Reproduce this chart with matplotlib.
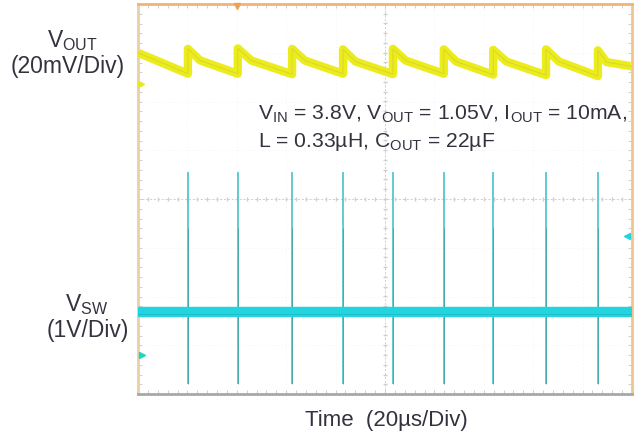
import numpy as np
import matplotlib
matplotlib.use("Agg")
import matplotlib.pyplot as plt
from matplotlib.ticker import MultipleLocator

plt.rcParams['font.family'] = ['Liberation Sans', 'DejaVu Sans']
plt.rcParams['mathtext.fontset'] = 'custom'
plt.rcParams['mathtext.rm'] = 'Liberation Sans'

# switching events (time in divisions, 20us/div)
sw_times = [1.01, 2.02, 3.12, 4.15, 5.16, 6.19, 7.19, 8.26, 9.31]

# VOUT ripple (divisions, 20mV/div), read per tooth
vout_start = 3.00
vout_valley = [2.57, 2.57, 2.56, 2.57, 2.56, 2.57, 2.55, 2.54, 2.52, 2.72]  # value just before each jump (last = screen end)
vout_peak = [3.08, 3.09, 3.08, 3.07, 3.08, 3.07, 3.06, 3.07, 3.05]
vout_mid_drop = [0.24, 0.25, 0.24, 0.25, 0.24, 0.25, 0.24, 0.25, 0.24]

# VSW levels (divisions, 1V/div)
vsw_level = -2.32
spike_top = 0.55
spike_bottom = -3.80

W, H = 642, 439
fig = plt.figure(figsize=(W / 100, H / 100), dpi=100)
ax = fig.add_axes([138 / W, (H - 395) / H, 494 / W, 390 / H])
ax.set_xlim(0, 10)
ax.set_ylim(-4, 4)

# faint graticule
for gx in range(1, 10):
    ax.axvline(gx, color='#f0f0f0', lw=0.6, ls=(0, (1, 3)), zorder=0)
for gy in range(-3, 4):
    ax.axhline(gy, color='#f0f0f0', lw=0.6, ls=(0, (1, 3)), zorder=0)
ax.axvline(5, color='#cfcfcf', lw=0.7, ls=(0, (2, 2)), zorder=0)
ax.axhline(0, color='#cfcfcf', lw=0.7, ls=(0, (2, 2)), zorder=0)
ax.plot(np.arange(0, 10.01, 0.2), np.zeros(51), '|', color='#cfcfcf', ms=3.5, zorder=0)
ax.plot(np.full(41, 5.0), np.arange(-4, 4.01, 0.2), '_', color='#cfcfcf', ms=3.5, zorder=0)

# VOUT trace
t = [0.0]
v = [vout_start]
ends = sw_times + [10.0]
starts = [0.0] + sw_times
for i, te in enumerate(ends):
    if i > 0:
        t.append(starts[i])
        v.append(vout_peak[i - 1])
        t.append(starts[i] + 0.25 * (te - starts[i]))
        v.append(vout_peak[i - 1] - vout_mid_drop[i - 1])
    t.append(te)
    v.append(vout_valley[i])
ax.plot(t, v, color='#ecec1c', lw=6, solid_capstyle='butt', zorder=3)
ax.plot(t, v, color='#c2c240', lw=0.7, alpha=0.5, zorder=3)

# VSW trace
ax.vlines(sw_times, spike_bottom, spike_top, color='#55c8c8', lw=1.3, zorder=2)
ax.vlines(sw_times, spike_bottom, -0.6, color='#2f8f90', lw=0.6, alpha=0.6, zorder=2)
ax.plot([0, 10], [vsw_level, vsw_level], color='#22d4e0', lw=7.5, solid_capstyle='butt', zorder=3)
ax.plot([0, 10], [vsw_level - 0.03, vsw_level - 0.03], color='#1aa8b4', lw=0.7, alpha=0.5, zorder=3)

# channel / trigger markers
ax.plot(0.06, 2.36, marker='>', color='#e8e820', ms=4, clip_on=False, zorder=4)
ax.plot(0.08, -3.20, marker='>', color='#22d4c0', ms=4, clip_on=False, zorder=4)
ax.plot(9.9, -0.76, marker='<', color='#22d4e0', ms=4, clip_on=False, zorder=4)
ax.plot(2.0, 3.95, marker='v', color='#f0a050', ms=4, clip_on=False, zorder=4)

# frame and ticks
ax.set_xticks([])
ax.set_yticks([])
ax.xaxis.set_minor_locator(MultipleLocator(0.2))
ax.yaxis.set_minor_locator(MultipleLocator(0.2))
ax.tick_params(which='minor', direction='in', length=3, color='#c8c8c8',
               top=True, right=True, labelbottom=False, labelleft=False)
ax.spines['top'].set_color('#f2b27a')
ax.spines['left'].set_color('#e9cfa5')
ax.spines['right'].set_color('#efc690')
ax.spines['bottom'].set_color('#a8a8a8')
for s in ax.spines.values():
    s.set_linewidth(2)

def fx(px):
    return px / W

def fy(py):
    return 1 - py / H

tc = '#333340'
fig.text(fx(72), fy(41), r'$\mathregular{V_{OUT}}$', ha='center', va='center', fontsize=16.5, color=tc)
fig.text(fx(68), fy(66), '(20mV/Div)', ha='center', va='center', fontsize=16.5, color=tc)
fig.text(fx(87), fy(305), r'$\mathregular{V_{SW}}$', ha='center', va='center', fontsize=16.5, color=tc)
fig.text(fx(88), fy(330), '(1V/Div)', ha='center', va='center', fontsize=16.5, color=tc)

fig.text(fx(258), fy(114),
         r'$\mathregular{V_{IN}}$ = 3.8V, $\mathregular{V_{OUT}}$ = 1.05V, $\mathregular{I_{OUT}}$ = 10mA,',
         ha='left', va='center', fontsize=15.2, color=tc)
fig.text(fx(258), fy(142), r'L = 0.33µH, $\mathregular{C_{OUT}}$ = 22µF',
         ha='left', va='center', fontsize=15.2, color=tc)
fig.text(fx(386), fy(421), 'Time  (20µs/Div)', ha='center', va='center', fontsize=16, color=tc)

fig.savefig('out.png', dpi=100)
